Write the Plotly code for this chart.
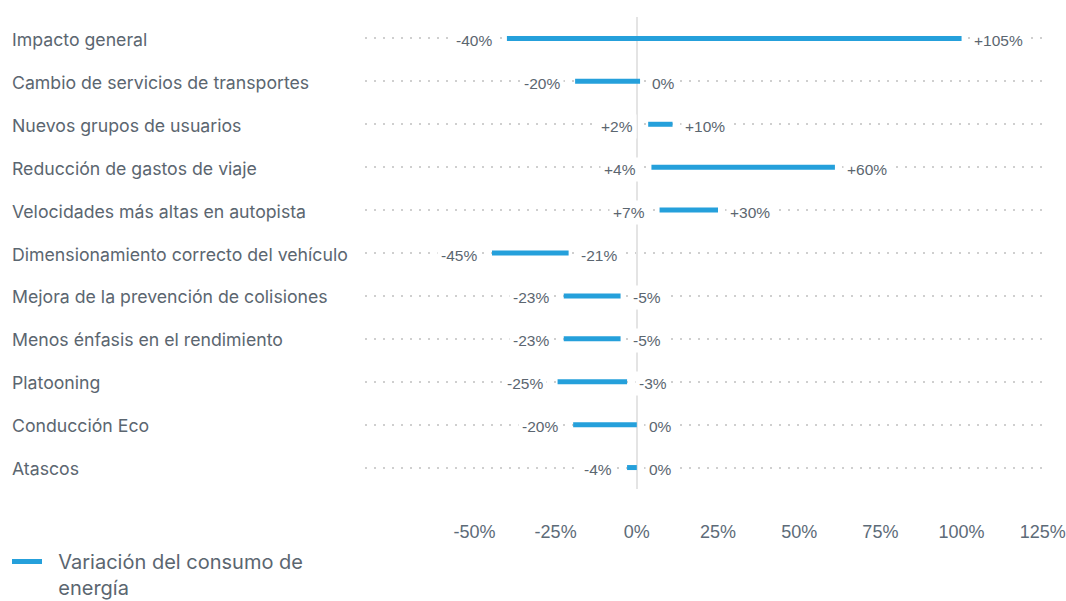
import plotly.graph_objects as go

# ---- data ----
categories = [
    "Impacto general",
    "Cambio de servicios de transportes",
    "Nuevos grupos de usuarios",
    "Reducción de gastos de viaje",
    "Velocidades más altas en autopista",
    "Dimensionamiento correcto del vehículo",
    "Mejora de la prevención de colisiones",
    "Menos énfasis en el rendimiento",
    "Platooning",
    "Conducción Eco",
    "Atascos",
]
# bar extents as drawn (percent)
bar_start = [-40, -19, 3.5, 4.5, 7, -44.6, -22.5, -22.5, -24.4, -19.6, -3]
bar_end = [100, 1, 11, 61, 25, -21, -5, -5, -3, 0, 0]
# value labels shown at each end
start_labels = ["-40%", "-20%", "+2%", "+4%", "+7%", "-45%", "-23%", "-23%", "-25%", "-20%", "-4%"]
end_labels = ["+105%", "0%", "+10%", "+60%", "+30%", "-21%", "-5%", "-5%", "-3%", "0%", "0%"]
x_ticks = [-50, -25, 0, 25, 50, 75, 100, 125]
series_name = "&nbsp;&nbsp;Variación del consumo de<br>&nbsp;&nbsp;energía"

BLUE = "#25a0db"
TXT = "#5b6670"
W, H = 1066, 601
ML, MR, MT, MB = 365, 20, 16.5, 111.5
X0, X1 = -83.7, 126

xs, ys = [], []
for i, (s, e) in enumerate(zip(bar_start, bar_end)):
    xs += [s, e, None]
    ys += [i, i, None]

fig = go.Figure()
fig.add_trace(go.Scatter(
    x=xs, y=ys, mode="lines",
    line=dict(color=BLUE, width=5),
    name=series_name, showlegend=True, hoverinfo="skip",
))

annotations = []
plot_w = W - ML - MR
for i, cat in enumerate(categories):
    annotations.append(dict(
        x=(10 - ML) / plot_w, xref="paper", y=i, yref="y",
        text=cat, showarrow=False, xanchor="left", yanchor="middle",
        yshift=-1,
        font=dict(family="Inter, Liberation Sans, sans-serif", size=17.7, color=TXT),
    ))
    annotations.append(dict(
        x=bar_start[i], y=i, xref="x", yref="y", text=start_labels[i],
        showarrow=False, xanchor="right", yanchor="middle", xshift=-11, yshift=-2,
        bgcolor="white", borderpad=3,
        font=dict(family="Liberation Sans, Arial, sans-serif", size=15.5, color=TXT),
    ))
    annotations.append(dict(
        x=bar_end[i], y=i, xref="x", yref="y", text=end_labels[i],
        showarrow=False, xanchor="left", yanchor="middle", xshift=8, yshift=-2,
        bgcolor="white", borderpad=3,
        font=dict(family="Liberation Sans, Arial, sans-serif", size=15.5, color=TXT),
    ))

fig.update_layout(
    width=W, height=H,
    margin=dict(l=ML, r=MR, t=MT, b=MB, pad=0, autoexpand=False),
    paper_bgcolor="white", plot_bgcolor="white",
    showlegend=True,
    legend=dict(
        xref="container", yref="container", x=7 / W, y=1 - 542 / H,
        xanchor="left", yanchor="top", valign="top", itemwidth=30,
        font=dict(family="Inter, Liberation Sans, sans-serif", size=20, color=TXT),
        bgcolor="rgba(0,0,0,0)",
    ),
    annotations=annotations,
    xaxis=dict(
        range=[X0, X1], tickvals=x_ticks,
        ticktext=[f"{v}%" for v in x_ticks],
        showgrid=False, zeroline=True, zerolinecolor="#e4e4e4", zerolinewidth=2,
        showline=False, ticks="", automargin=False,
        ticklabelstandoff=30,
        tickfont=dict(family="Liberation Sans, Arial, sans-serif", size=18, color="#5d6b78"),
    ),
    yaxis=dict(
        range=[len(categories) - 0.5, -0.5], tickvals=list(range(len(categories))),
        showticklabels=False, showgrid=True, gridcolor="#cfcfcf", automargin=False,
        griddash="2px,7px", gridwidth=1.5, zeroline=False, ticks="",
    ),
)

fig.write_html("out.html")
